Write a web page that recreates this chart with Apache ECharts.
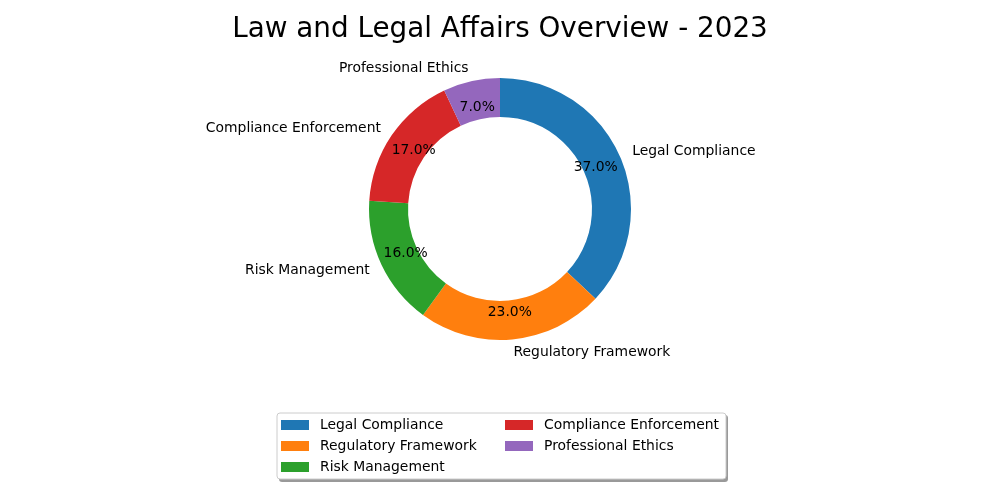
<!DOCTYPE html>
<html>
<head>
<meta charset="utf-8">
<script src="https://cdn.jsdelivr.net/npm/echarts@6/dist/echarts.min.js"></script>
<style>html,body{margin:0;padding:0;background:#fff}#c{width:1000px;height:500px}</style>
</head>
<body>
<div id="c"></div>
<script>
const titleText = 'Law and Legal Affairs Overview - 2023';
const categories = ['Legal Compliance', 'Regulatory Framework', 'Risk Management', 'Compliance Enforcement', 'Professional Ethics'];
const values = [37, 23, 16, 17, 7];
const colors = ['#1f77b4', '#ff7f0e', '#2ca02c', '#d62728', '#9467bd'];
const legendCol1 = ['Legal Compliance', 'Regulatory Framework', 'Risk Management'];
const legendCol2 = ['Compliance Enforcement', 'Professional Ethics'];

const total = values.reduce((a, b) => a + b, 0);
const font = 'DejaVu Sans';
const chart = echarts.init(document.getElementById('c'), null, {renderer: 'canvas'});

const ringData = categories.map((n, i) => ({name: n, value: values[i], itemStyle: {color: colors[i]}}));
const pctData = categories.map((n, i) => ({name: n, value: values[i], itemStyle: {color: 'rgba(0,0,0,0)'}}));

const legendBase = {
  orient: 'vertical', itemWidth: 28, itemHeight: 10, itemGap: 7, padding: 0,
  icon: 'rect', selectedMode: false, z: 5,
  textStyle: {fontFamily: font, fontSize: 13.9, color: '#000', lineHeight: 14, padding: [0, 0, 0, 6]}
};

chart.setOption({
  animation: false,
  title: {
    text: titleText, left: 'center', top: 11,
    textStyle: {fontFamily: font, fontSize: 27.8, fontWeight: 'normal', color: '#000'}
  },
  legend: [
    Object.assign({}, legendBase, {data: legendCol1, left: 281, top: 418}),
    Object.assign({}, legendBase, {data: legendCol2, left: 505, top: 418})
  ],
  graphic: [
    {
      type: 'rect', z: 1, left: 279, top: 415,
      shape: {width: 449, height: 67, r: 3},
      style: {fill: 'rgba(0,0,0,0.4)', stroke: null}
    },
    {
      type: 'rect', z: 2, left: 276.5, top: 412.5,
      shape: {width: 449, height: 66, r: 3},
      style: {fill: '#fff', stroke: '#cccccc', lineWidth: 1}
    }
  ],
  series: [
    {
      type: 'pie', center: [500, 209], radius: [92, 131], startAngle: 90, clockwise: true,
      avoidLabelOverlap: false, silent: true,
      data: ringData,
      itemStyle: {borderWidth: 0},
      label: {
        show: true, position: 'outside', fontFamily: font, fontSize: 13.9, color: '#000',
        distanceToLabelLine: 0, formatter: '{b}'
      },
      labelLine: {show: false, length: 13, length2: 0}
    },
    {
      type: 'pie', center: [500, 209], radius: [0, 202.6], startAngle: 90, clockwise: true,
      avoidLabelOverlap: false, silent: true, z: 3,
      data: pctData,
      label: {
        show: true, position: 'inside', fontFamily: font, fontSize: 13.9, color: '#000',
        formatter: p => (p.value / total * 100).toFixed(1) + '%'
      },
      labelLine: {show: false}
    }
  ]
});
</script>
</body>
</html>
